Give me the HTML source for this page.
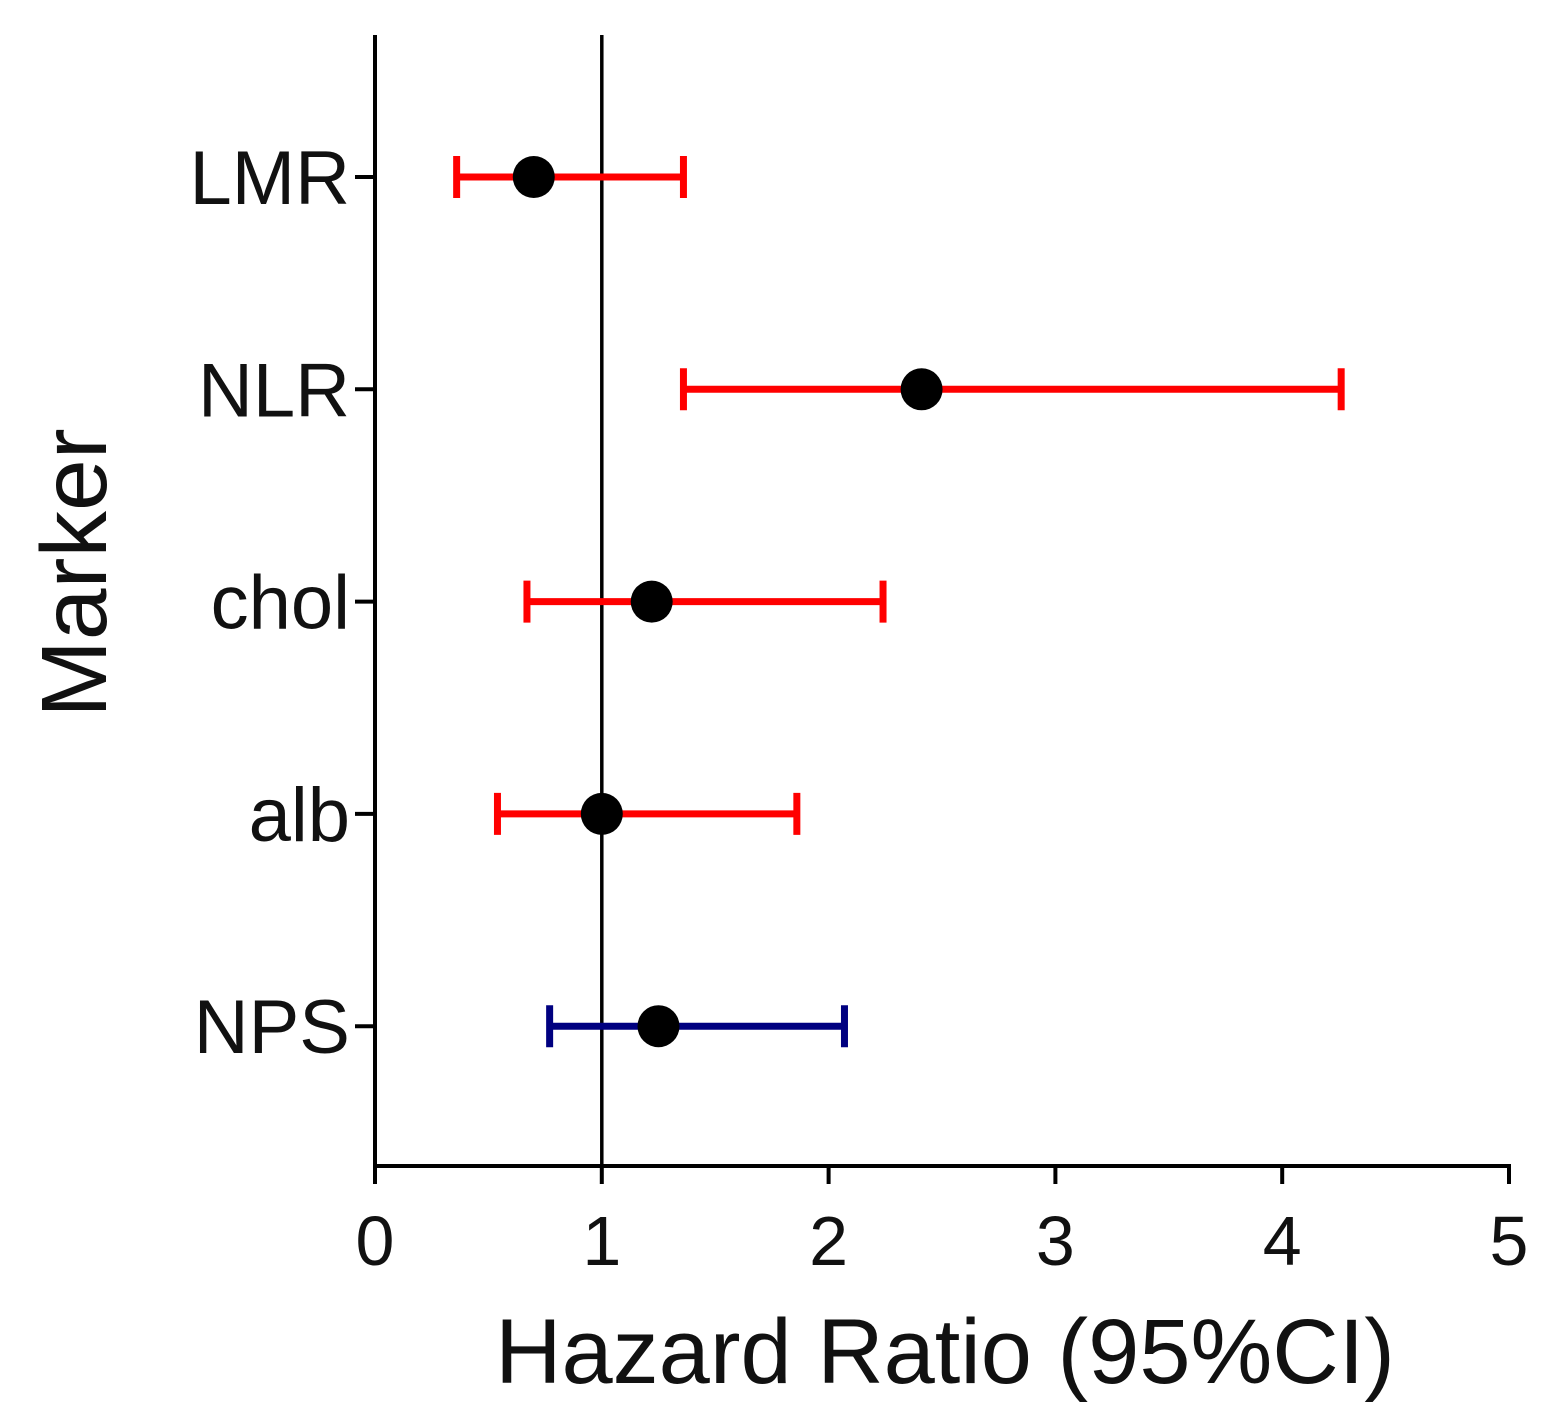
<!DOCTYPE html>
<html><head><meta charset="utf-8"><style>
body{margin:0;background:#fff}
svg{display:block;font-family:"Liberation Sans",Arial,sans-serif}
</style></head><body>
<svg id="chart" width="1551" height="1422" viewBox="0 0 1551 1422">
<g id="axes"></g><g id="marks"></g>
<text x="945" y="1383" font-size="92" text-anchor="middle" fill="#111">Hazard Ratio (95%CI)</text>
<text transform="translate(106,573) rotate(-90)" font-size="93" text-anchor="middle" fill="#111">Marker</text>
</svg>
<script>
const categories=["LMR","NLR","chol","alb","NPS"];
const hr=[0.70,2.41,1.22,1.00,1.25];
const lower=[0.36,1.36,0.67,0.54,0.77];
const upper=[1.36,4.26,2.24,1.86,2.07];
const colors=["#ff0000","#ff0000","#ff0000","#ff0000","#000080"];
const xTicks=[0,1,2,3,4,5];
const NS="http://www.w3.org/2000/svg";
const x=v=>375+v*226.8;
const y=i=>177+i*212.3;
const axes=document.getElementById('axes'),marks=document.getElementById('marks');
function mk(tag,attrs,parent){const e=document.createElementNS(NS,tag);for(const k in attrs)e.setAttribute(k,attrs[k]);parent.appendChild(e);return e;}
let l=mk('line',{x1:375,y1:35,x2:375,y2:1168,stroke:'#000','stroke-width':4},axes);


l=mk('line',{x1:373,y1:1166,x2:1511,y2:1166,stroke:'#000','stroke-width':4},axes);


l=mk('line',{x1:x(1),y1:35,x2:x(1),y2:1166,stroke:'#000','stroke-width':3.5},axes);


xTicks.forEach(t=>{
 const tk=mk('line',{x1:x(t),y1:1166,x2:x(t),y2:1184,stroke:'#000','stroke-width':4},axes);
 
 
 const tx=mk('text',{x:x(t),y:1265,'font-size':70,'text-anchor':'middle',fill:'#111'},axes);
 tx.textContent=t;
 
 
});
categories.forEach((c,i)=>{
 const yy=y(i);
 const tk=mk('line',{x1:355,y1:yy,x2:375,y2:yy,stroke:'#000','stroke-width':4},axes);
 
 
 const tx=mk('text',{x:350,y:yy+27,'font-size':76,'text-anchor':'end',fill:'#111'},axes);
 tx.textContent=c;
 
 
 const g=mk('g',{stroke:colors[i],'stroke-width':7},marks);
 
 
 mk('line',{x1:x(lower[i]),y1:yy,x2:x(upper[i]),y2:yy},g);
 mk('line',{x1:x(lower[i]),y1:yy-21,x2:x(lower[i]),y2:yy+21},g);
 mk('line',{x1:x(upper[i]),y1:yy-21,x2:x(upper[i]),y2:yy+21},g);
 const p=mk('circle',{cx:x(hr[i]),cy:yy,r:21,fill:'#000'},marks);
 
 
});
</script>
</body></html>
